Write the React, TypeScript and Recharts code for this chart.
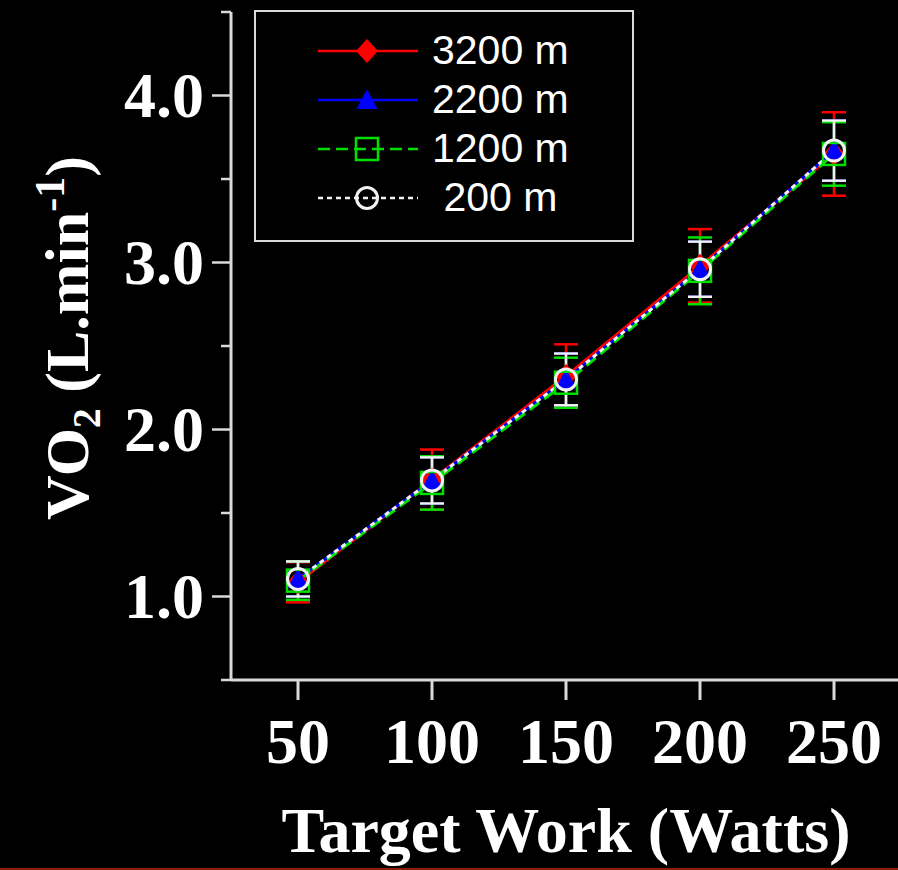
import React from "react";
import { LineChart, Line, XAxis, YAxis, ErrorBar, Legend } from "recharts";

// Target work (W) and mean VO2 (L/min) with SD at four altitudes
const watts = [50, 100, 150, 200, 250];
const vo2At3200 = [1.085, 1.7, 2.32, 2.98, 3.65];
const vo2At2200 = [1.105, 1.695, 2.3, 2.96, 3.67];
const vo2At1200 = [1.095, 1.68, 2.28, 2.95, 3.65];
const vo2At200 = [1.105, 1.695, 2.3, 2.96, 3.67];
const sdAt3200 = [0.12, 0.18, 0.19, 0.22, 0.25];
const sdAt2200 = [0.105, 0.138, 0.155, 0.165, 0.18];
const sdAt1200 = [0.115, 0.16, 0.15, 0.2, 0.19];
const sdAt200 = [0.105, 0.138, 0.155, 0.165, 0.18];
const yTicks = [0.5, 1, 1.5, 2, 2.5, 3, 3.5, 4, 4.5];

const AXIS = "#d9d9d9";
const SERIF = "'Liberation Serif', 'Times New Roman', serif";
const SANS = "'Liberation Sans', Arial, sans-serif";

type Kind = "diamond" | "triangle" | "square" | "circle";

const series = [
  { key: "m3200", name: "3200 m", color: "#ff0000", kind: "diamond" as Kind, dash: undefined, values: vo2At3200, sd: sdAt3200 },
  { key: "m2200", name: "2200 m", color: "#0000ff", kind: "triangle" as Kind, dash: undefined, values: vo2At2200, sd: sdAt2200 },
  { key: "m1200", name: "1200 m", color: "#00e000", kind: "square" as Kind, dash: "12 6", values: vo2At1200, sd: sdAt1200 },
  { key: "m200", name: " 200 m", color: "#f2f2f2", kind: "circle" as Kind, dash: "5 4", values: vo2At200, sd: sdAt200 },
];

const data = watts.map((w, i) => {
  const row: Record<string, number> = { watts: w };
  series.forEach((s) => {
    row[s.key] = s.values[i];
    row[s.key + "Sd"] = s.sd[i];
  });
  return row;
});

const Marker = ({ kind, cx, cy, color }: { kind: Kind; cx: number; cy: number; color: string }) => {
  if (kind === "diamond")
    return <polygon points={`${cx},${cy - 12} ${cx + 11},${cy} ${cx},${cy + 12} ${cx - 11},${cy}`} fill={color} />;
  if (kind === "triangle")
    return <polygon points={`${cx},${cy - 11} ${cx + 10.5},${cy + 9} ${cx - 10.5},${cy + 9}`} fill={color} />;
  if (kind === "square")
    return <rect x={cx - 11} y={cy - 11} width={22} height={22} fill="none" stroke={color} strokeWidth={2.5} />;
  return <circle cx={cx} cy={cy} r={10.5} fill="none" stroke={color} strokeWidth={3} />;
};

const YTick = ({ x, y, payload }: any) => {
  const major = Number.isInteger(payload.value);
  return (
    <g>
      <line x1={x - (major ? 19 : 10)} x2={x} y1={y} y2={y} stroke={AXIS} strokeWidth={2.5} />
      {major && (
        <text x={x - 27} y={y} dy="0.34em" textAnchor="end" fill="#fff" fontSize={64} fontWeight="bold" fontFamily={SERIF}>
          {payload.value.toFixed(1)}
        </text>
      )}
    </g>
  );
};

const YLabel = () => (
  <text
    x={88}
    y={338}
    transform="rotate(-90 88 338)"
    textAnchor="middle"
    fill="#fff"
    fontSize={62}
    fontWeight="bold"
    fontFamily={SERIF}
  >
    VO
    <tspan fontSize={40} dy={12}>2</tspan>
    <tspan dy={-12}> (L.min</tspan>
    <tspan fontSize={42} dy={-24}>-1</tspan>
    <tspan dy={24}>)</tspan>
  </text>
);

const XLabel = ({ viewBox }: any) => (
  <text
    x={viewBox.x + viewBox.width / 2}
    y={852}
    textAnchor="middle"
    fill="#fff"
    fontSize={64}
    fontWeight="bold"
    fontFamily={SERIF}
  >
    Target Work (Watts)
  </text>
);

const LegendBox = () => (
  <div
    style={{
      width: 376,
      height: 228,
      border: `2px solid ${AXIS}`,
      boxSizing: "content-box",
      background: "#000",
    }}
  >
    <div style={{ height: 14 }} />
    {series.map((s) => (
      <div key={s.key} style={{ display: "flex", alignItems: "center", height: 49 }}>
        <svg width={100} height={30} style={{ marginLeft: 62, flex: "none" }}>
          <line x1={0} x2={100} y1={15} y2={15} stroke={s.color} strokeWidth={2.5} strokeDasharray={s.dash} />
          <Marker kind={s.kind} cx={49} cy={15} color={s.color} />
        </svg>
        <span
          style={{
            marginLeft: 14,
            color: "#fff",
            fontSize: 41,
            fontFamily: SANS,
            whiteSpace: "pre",
            lineHeight: "49px",
          }}
        >
          {s.name}
        </span>
      </div>
    ))}
  </div>
);

export default function App() {
  return (
    <div
      style={{
        position: "absolute",
        left: 0,
        top: 0,
        width: 898,
        height: 870,
        overflow: "hidden",
        background: "#000",
      }}
    >
      <LineChart width={910} height={870} data={data} margin={{ top: 12, right: 9, bottom: 0, left: 0 }}>
        <XAxis
          dataKey="watts"
          type="number"
          domain={[25, 275]}
          ticks={watts}
          interval={0}
          height={190}
          tickSize={20}
          tickMargin={18}
          stroke={AXIS}
          strokeWidth={3}
          tick={{ fill: "#fff", fontSize: 64, fontWeight: "bold", fontFamily: SERIF }}
          label={{ content: XLabel }}
        />
        <YAxis
          type="number"
          domain={[0.5, 4.5]}
          ticks={yTicks}
          interval={0}
          width={231}
          tickSize={0}
          tickMargin={0}
          tickLine={false}
          stroke={AXIS}
          strokeWidth={3}
          tick={YTick}
          label={{ content: YLabel }}
        />
        <Legend
          layout="horizontal"
          verticalAlign="middle"
          align="center"
          content={LegendBox}
          wrapperStyle={{ left: 254, top: 10, width: 380, height: 232 }}
        />
        {series.map((s) => (
          <Line
            key={s.key}
            dataKey={s.key}
            name={s.name}
            type="linear"
            stroke={s.color}
            strokeWidth={3}
            strokeDasharray={s.dash}
            isAnimationActive={false}
            activeDot={false}
            dot={(p: any) => <Marker key={`${s.key}-${p.index}`} kind={s.kind} cx={p.cx} cy={p.cy} color={s.color} />}
          >
            <ErrorBar
              dataKey={s.key + "Sd"}
              direction="y"
              width={12}
              stroke={s.color}
              strokeWidth={2.5}
              isAnimationActive={false}
            />
          </Line>
        ))}
      </LineChart>
      <div style={{ position: "absolute", left: 0, bottom: 0, width: 898, height: 2, background: "#8b1e0a" }} />
    </div>
  );
}
